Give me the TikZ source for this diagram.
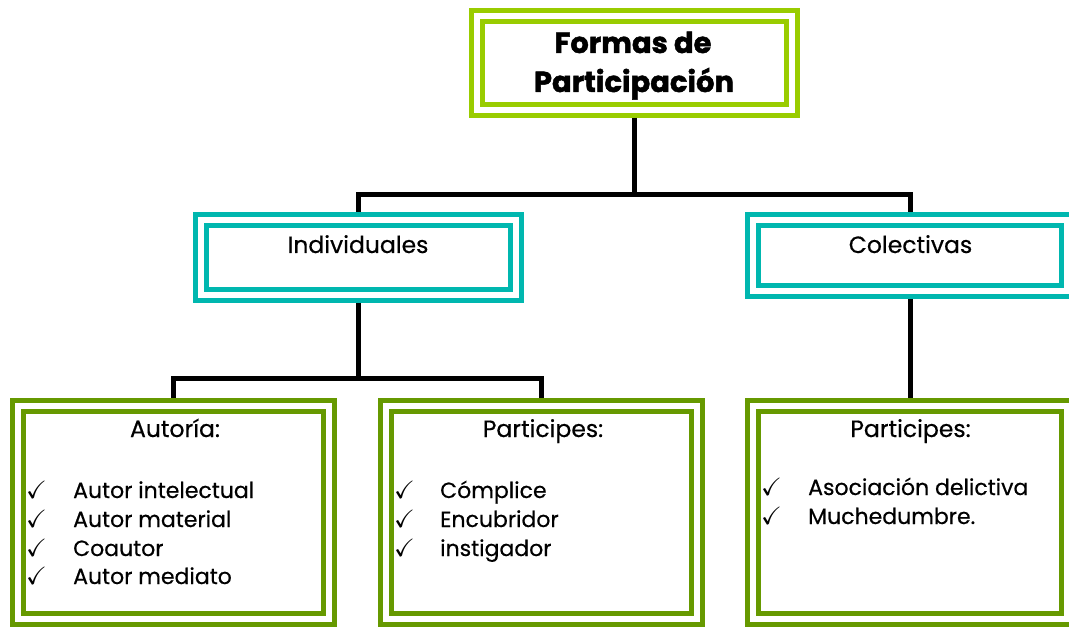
\documentclass[tikz,border=0pt]{standalone}
\usepackage{fontspec}
\setmainfont{Poppins}[UprightFeatures={FakeBold=0.5}]
\newfontfamily\heavyfont{Poppins}[BoldFeatures={FakeBold=1.6}]
\usepackage{amssymb}
\definecolor{limeg}{RGB}{153,204,0}
\definecolor{tealb}{RGB}{0,183,175}
\definecolor{darkg}{RGB}{102,153,0}
\newcommand\gothic[1]{\fontsize{#1}{#1}\selectfont}
\newcommand\gothicb[1]{\heavyfont\bfseries\fontsize{#1}{#1}\selectfont}
\tikzset{
  dbox/.style={rectangle, draw=#1, double=white, line width=5pt, double distance=6pt,
    inner sep=0pt, outer sep=8pt},
  conn/.style={line width=5pt, black},
  ttl/.style={anchor=base, inner sep=0pt, font=\gothicb{29}},
  lbl/.style={anchor=base, inner sep=0pt, font=\gothic{23.5}},
  itm/.style={anchor=base west, inner sep=0pt, font=\gothic{22}},
  chk/.style={anchor=base west, inner sep=0pt, font=\fontsize{25}{25}\selectfont}
}
\begin{document}
\begin{tikzpicture}[x=1pt,y=-1pt]
\useasboundingbox (0,0) rectangle (1069,628);
% boxes
\node[dbox=limeg, minimum width=315pt, minimum height=94pt] (top) at (634.5,63) {};
\node[dbox=tealb, minimum width=315pt, minimum height=75pt] (ind) at (358.5,257.5) {};
\node[dbox=tealb, minimum width=314pt, minimum height=71pt] (col) at (910,255.5) {};
\node[dbox=darkg, minimum width=311pt, minimum height=213pt] (aut) at (173.5,512.5) {};
\node[dbox=darkg, minimum width=311pt, minimum height=213pt] (par) at (541.5,512.5) {};
\node[dbox=darkg, minimum width=314pt, minimum height=213pt] (parc) at (910,512.5) {};
% connectors
\coordinate (j0) at (634.5,194.5);
\coordinate (j1) at (358.5,378.5);
\draw[conn] (top.south) -- (j0);
\draw[conn] (ind.north) |- (j0) -| (col.north);
\draw[conn] (ind.south) -- (j1);
\draw[conn] (aut.north) |- (j1) -| (par.north);
\draw[conn] (col.south) -- (parc.north);
% texts
\node[ttl] (t1) at (633,53) {Formas de};
\node[ttl] (t2) at (634,92) {Participación};
\node[lbl] (lind) at (358,253) {Individuales};
\node[lbl] (lcol) at (910.5,253) {Colectivas};
\node[lbl] (laut) at (175,437) {Autoría:};
\node[lbl] (lpar) at (543,437) {Participes:};
\node[lbl] (lparc) at (910.5,437) {Participes:};
% list Autoria
\node[chk] (c1) at (26,498) {$\checkmark$};
\node[chk] (c2) at (26,527) {$\checkmark$};
\node[chk] (c3) at (26,556) {$\checkmark$};
\node[chk] (c4) at (26,584) {$\checkmark$};
\node[itm] (i1) at (73,498) {Autor intelectual};
\node[itm] (i2) at (73,527) {Autor material};
\node[itm] (i3) at (73,556) {Coautor};
\node[itm] (i4) at (73,584) {Autor mediato};
% list Participes
\node[chk] (c5) at (394,498) {$\checkmark$};
\node[chk] (c6) at (394,527) {$\checkmark$};
\node[chk] (c7) at (394,556) {$\checkmark$};
\node[itm] (i5) at (440,498) {Cómplice};
\node[itm] (i6) at (440,527) {Encubridor};
\node[itm] (i7) at (440,556) {instigador};
% list Participes colectivas
\node[chk] (c8) at (761,495) {$\checkmark$};
\node[chk] (c9) at (761,524) {$\checkmark$};
\node[itm] (i8) at (808,495) {Asociación delictiva};
\node[itm] (i9) at (808,524) {Muchedumbre.};
\end{tikzpicture}
\end{document}
